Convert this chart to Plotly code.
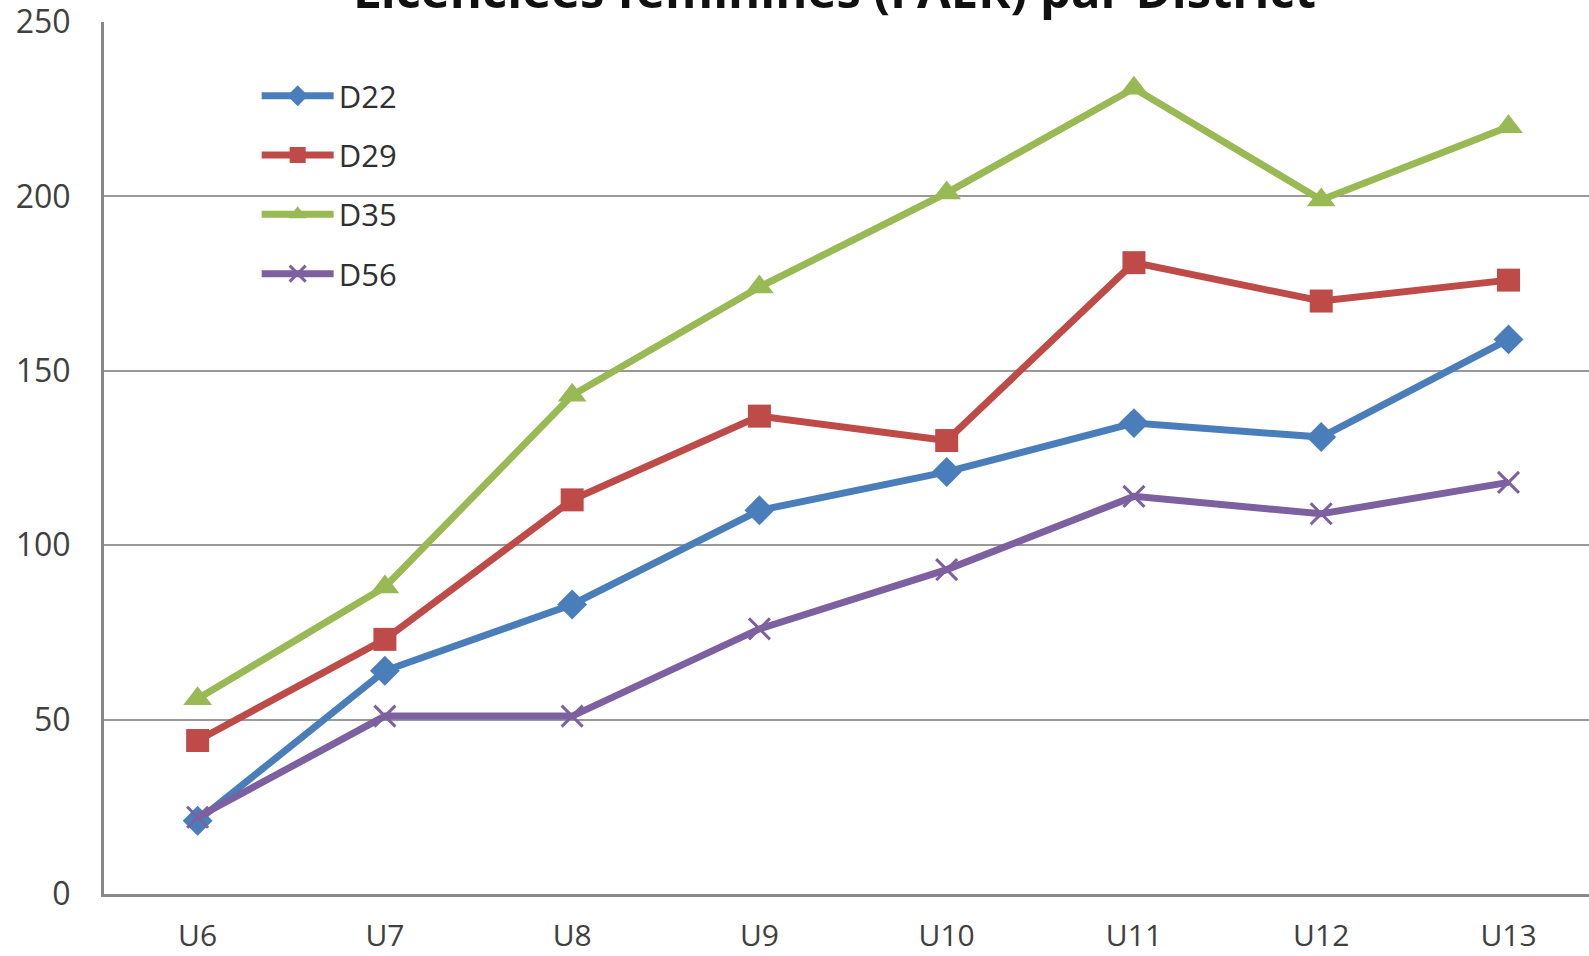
import plotly.graph_objects as go

categories = ["U6", "U7", "U8", "U9", "U10", "U11", "U12", "U13"]
d22 = [21, 64, 83, 110, 121, 135, 131, 159]
d29 = [44, 73, 113, 137, 130, 181, 170, 176]
d35 = [56, 88, 143, 174, 201, 231, 199, 220]
d56 = [22, 51, 51, 76, 93, 114, 109, 118]
y_ticks = [0, 50, 100, 150, 200, 250]
title_text = "Licenciées féminines (FAER) par District"

series = [
    ("D22", d22, "#4A7EBB", "diamond", 23, 0),
    ("D29", d29, "#BE4B48", "square", 23, 0),
    ("D35", d35, "#98B954", "triangle-up", 25, 0),
    ("D56", d56, "#7D60A0", "x-thin", 21, 3),
]

fig = go.Figure()
for i, (name, vals, color, sym, size, lw) in enumerate(series):
    marker = dict(symbol=sym, size=size, color=color)
    if lw:
        marker["line"] = dict(color=color, width=lw)
    fig.add_trace(go.Scatter(
        x=categories, y=vals, name=name, mode="lines+markers",
        line=dict(color=color, width=7), marker=marker,
        legendgroup=name,
    ))

fig.update_layout(
    width=1589, height=956,
    margin=dict(l=104, r=0, t=22, b=62, autoexpand=False),
    plot_bgcolor="white", paper_bgcolor="white",
    font=dict(family="Open Sans", size=31, color="#404040"),
    showlegend=True,
    legend=dict(x=0.1028, y=0.946, xanchor="left", yanchor="top",
                bgcolor="rgba(0,0,0,0)", font=dict(size=31, color="#303030"),
                tracegroupgap=16, itemwidth=72),
    xaxis=dict(type="category", range=[-0.5, 7.43], showgrid=False,
               showline=True, linecolor="#888888", linewidth=3,
               ticks="", ticklabelstandoff=13, automargin=False,
               ticklabeloverflow="allow",
               tickfont=dict(size=30, color="#404040")),
    yaxis=dict(range=[0, 250], tickvals=y_ticks, showgrid=True,
               gridcolor="#999999", gridwidth=2, zeroline=False,
               showline=True, linecolor="#888888", linewidth=3,
               ticks="", ticklabelstandoff=24, ticklabeloverflow="allow",
               automargin=False,
               tickfont=dict(size=32, color="#404040")),
    annotations=[dict(text="<b>" + title_text + "</b>", xref="paper", yref="paper",
                      x=0.4916, y=0.9977, xanchor="center", yanchor="bottom",
                      showarrow=False, font=dict(size=49, color="#111111"))],
)

fig.write_html("out.html", config={"displayModeBar": False},
               post_script="document.body.style.margin='0';document.body.style.overflow='hidden';")
